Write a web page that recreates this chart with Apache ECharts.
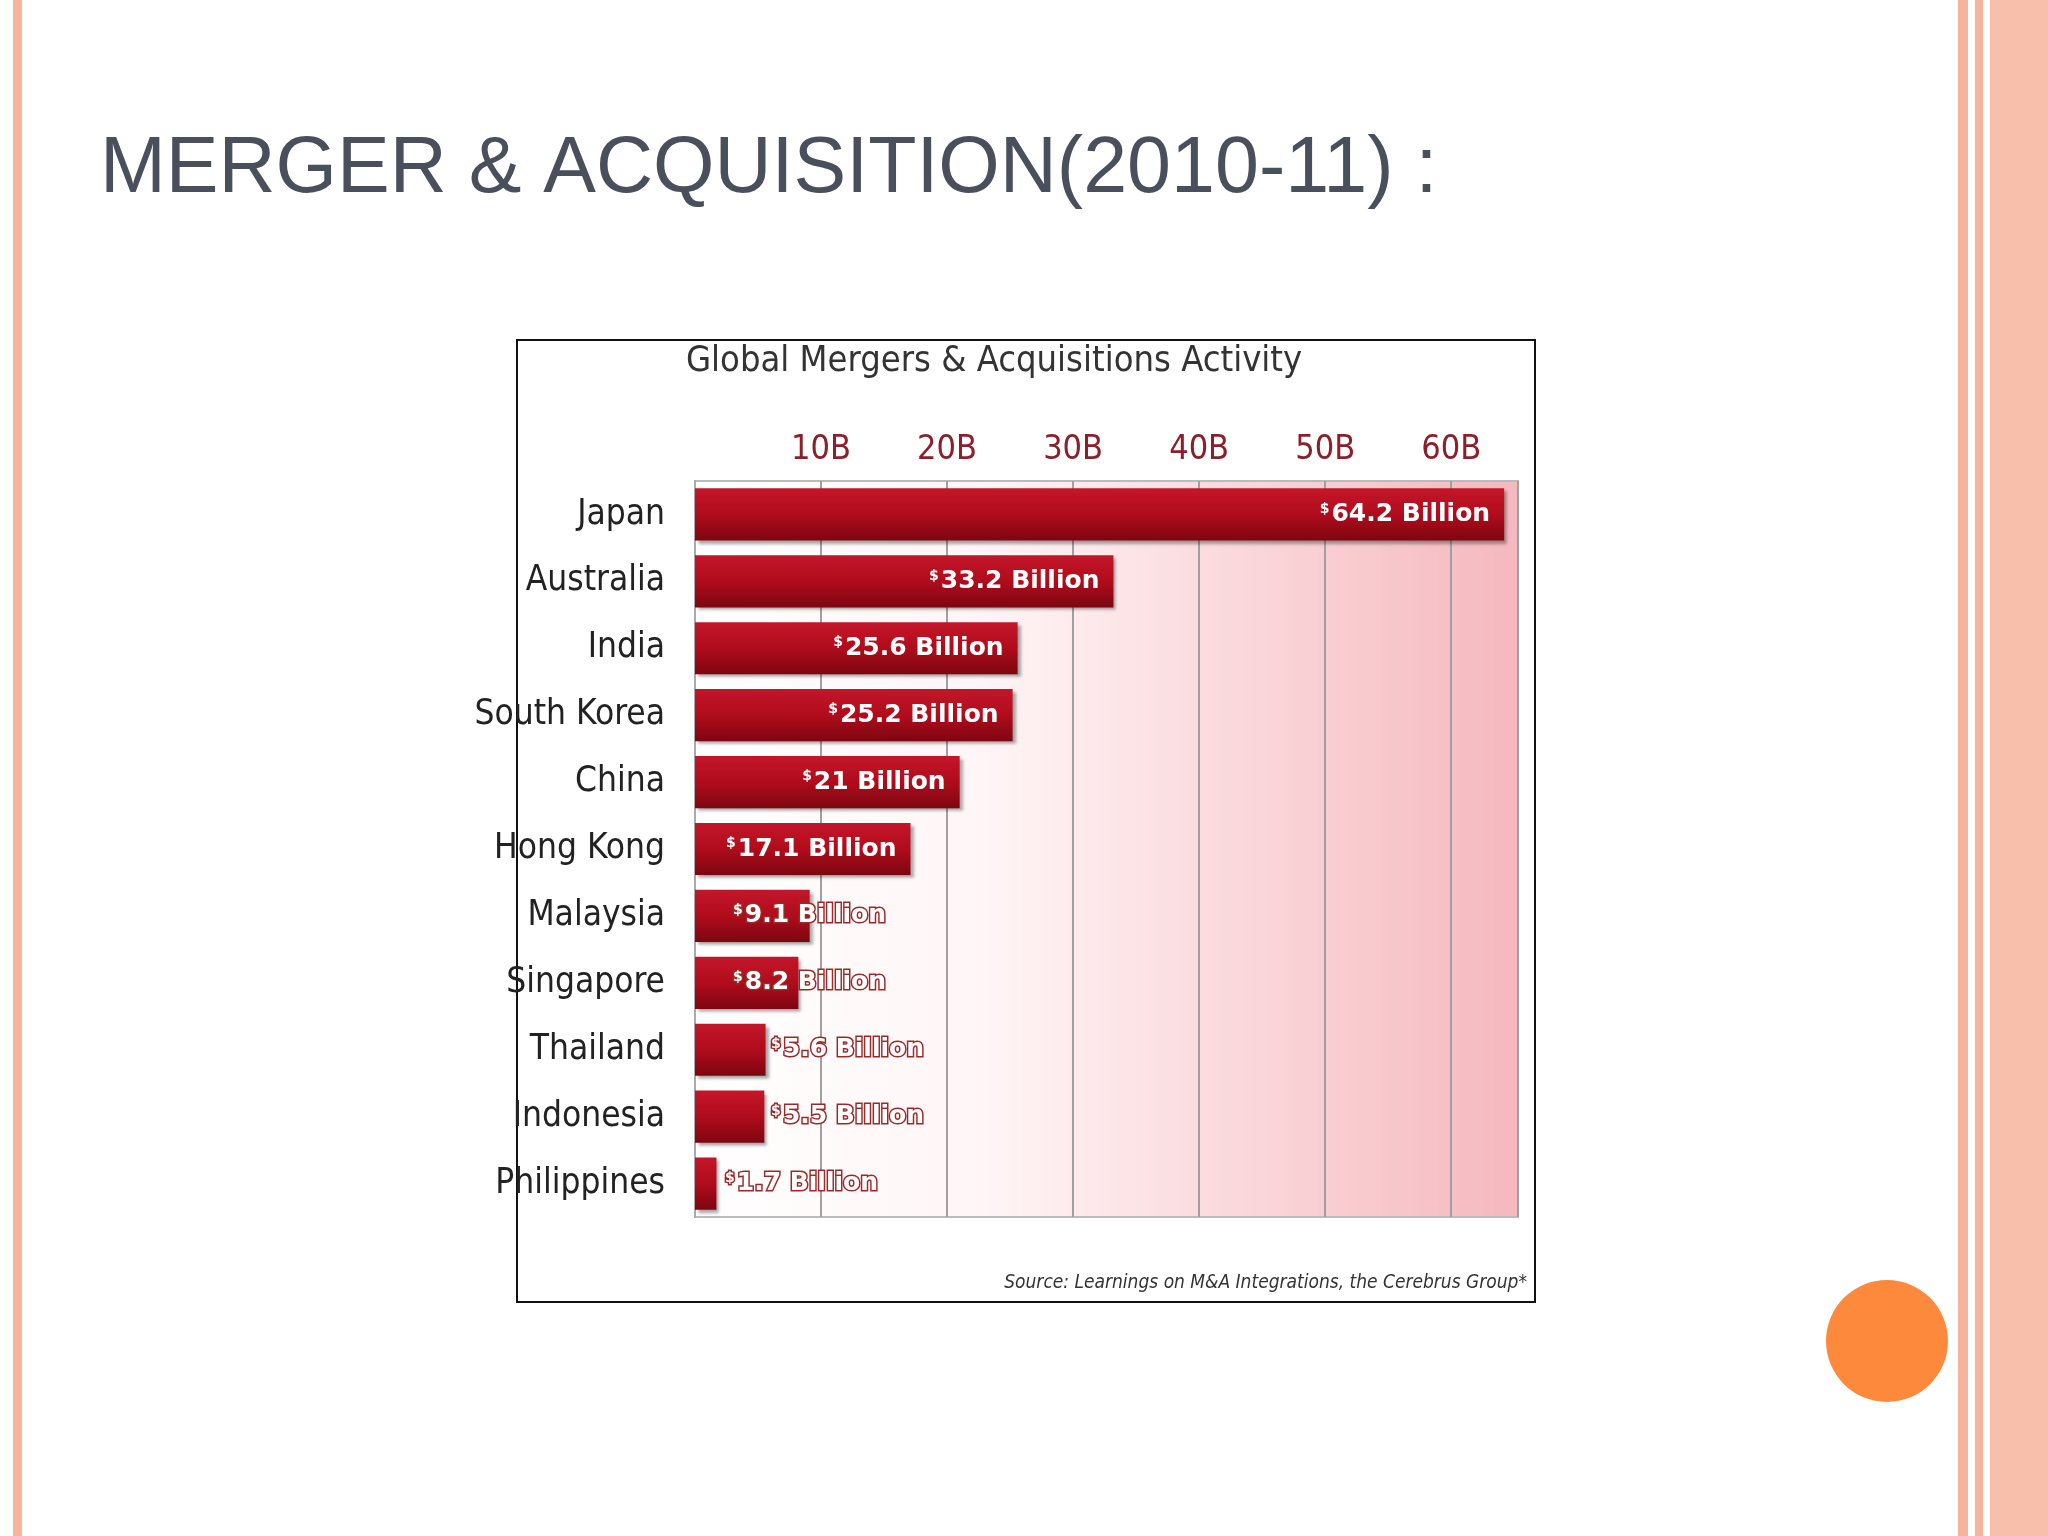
<!DOCTYPE html>
<html><head><meta charset="utf-8">
<script src="https://cdn.jsdelivr.net/npm/echarts@6/dist/echarts.min.js"></script>
<style>html,body{margin:0;padding:0;background:#fff}#c{width:2048px;height:1536px}</style>
</head><body><div id="c"></div>
<script>
const countries = ["Japan","Australia","India","South Korea","China","Hong Kong","Malaysia","Singapore","Thailand","Indonesia","Philippines"];
const values = [64.2,33.2,25.6,25.2,21,17.1,9.1,8.2,5.6,5.5,1.7];
const labels = ["64.2 Billion","33.2 Billion","25.6 Billion","25.2 Billion","21 Billion","17.1 Billion","9.1 Billion","8.2 Billion","5.6 Billion","5.5 Billion","1.7 Billion"];
const tickLabels = {10:"10B",20:"20B",30:"30B",40:"40B",50:"50B",60:"60B"};

const chart = echarts.init(document.getElementById('c'));
const data = values.map((v,i)=>{
  const big = v >= 15;
  const dist = big ? 14 : (v < 3 ? 30 : (v < 7 ? 76 : 38));
  return {value:v, label:{
    show:true,
    position: big ? 'insideRight' : 'insideLeft',
    distance: dist,
    formatter: '{s|$}' + labels[i],
    color:'#fff', fontWeight:'bold', fontSize:25, fontFamily:'DejaVu Sans',
    textBorderColor: big ? 'transparent' : '#9a2a2a', textBorderWidth: big ? 0 : 3,
    rich:{s:{fontSize:14, verticalAlign:'top', color:'#fff', fontWeight:'bold', textBorderColor: big ? 'transparent' : '#9a2a2a', textBorderWidth: big?0:3, padding:[0,2,10,0]}}
  }};
});
chart.setOption({
  animation:false,
  grid:{left:695, top:481, width:823, height:736, containLabel:false},
  xAxis:{type:'value', position:'top', min:0, max:65.3, interval:10,
    axisLine:{show:false}, axisTick:{show:false},
    axisLabel:{formatter:v=>tickLabels[v]||'', color:'#8b1f2a', fontSize:34, fontFamily:'Liberation Sans Narrow, DejaVu Sans Condensed', margin:14, showMaxLabel:false},
    splitLine:{lineStyle:{color:'#a0a0a0', width:2}}},
  yAxis:{type:'category', data:countries, inverse:true,
    axisLine:{show:true, lineStyle:{color:'#aaa', width:2}}, axisTick:{show:false},
    axisLabel:{color:'#222', fontSize:35, fontFamily:'Liberation Sans Narrow, DejaVu Sans Condensed', margin:30}},
  series:[{type:'bar', data:data, barCategoryGap:'22%',
    itemStyle:{color:new echarts.graphic.LinearGradient(0,0,0,1,[{offset:0,color:'#c4162a'},{offset:0.5,color:'#b00c1c'},{offset:1,color:'#7d0610'}]),
      shadowColor:'rgba(0,0,0,0.35)', shadowOffsetX:3, shadowOffsetY:3, shadowBlur:3}}],
  graphic:[
    {type:'rect', z:-10, shape:{x:695,y:481,width:823,height:736}, style:{fill:new echarts.graphic.LinearGradient(0,0,1,0,[{offset:0,color:'#ffffff'},{offset:0.35,color:'#fff5f6'},{offset:1,color:'#f5b8be'}]), stroke:'#bbb', lineWidth:2}},
    {type:'rect', z:-11, shape:{x:517,y:340,width:1018,height:962}, style:{fill:'#fff', stroke:'#111', lineWidth:2}},
    {type:'text', x:686, y:344, style:{text:'Global Mergers & Acquisitions Activity', fill:'#333', fontSize:36, fontFamily:'DejaVu Sans Condensed'}},
    {type:'text', x:1527, y:1274, style:{text:'Source: Learnings on M&A Integrations, the Cerebrus Group*', fill:'#333', fontSize:19, fontStyle:'italic', fontFamily:'DejaVu Sans Condensed', align:'right'}},
    {type:'text', x:100, y:131, style:{text:'MERGER & ACQUISITION(2010-11) :', fill:'#4a4f5c', fontSize:79, fontFamily:'Liberation Sans'}},
    {type:'rect', shape:{x:13,y:0,width:9,height:1536}, style:{fill:'#f6b49e'}},
    {type:'rect', shape:{x:1958,y:0,width:10,height:1536}, style:{fill:'#f6b49e'}},
    {type:'rect', shape:{x:1975,y:0,width:8,height:1536}, style:{fill:'#f6b49e'}},
    {type:'rect', shape:{x:1990,y:0,width:58,height:1536}, style:{fill:'#f8c0ab'}},
    {type:'circle', shape:{cx:1887,cy:1341,r:61}, style:{fill:'#fd8a3c'}}
  ]
});
</script></body></html>
